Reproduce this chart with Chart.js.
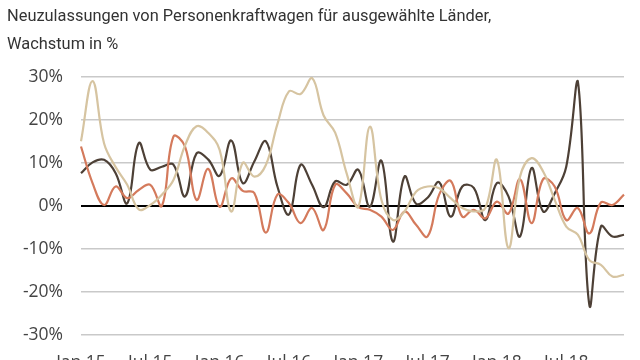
<!DOCTYPE html>
<html>
<head>
<meta charset="utf-8">
<script src="https://cdn.jsdelivr.net/npm/chart.js@4.4.1/dist/chart.umd.min.js"></script>
<style>
  html, body { margin: 0; padding: 0; background: #fff; overflow: hidden; }
  #wrap { width: 640px; height: 360px; overflow: hidden; }
  canvas { display: block; }
</style>
</head>
<body>
<div id="wrap"><canvas id="chart" width="640" height="372"></canvas></div>
<script>
// Monate Jan 15 bis Dez 18
const months = ["Jan", "Feb", "Mär", "Apr", "Mai", "Jun", "Jul", "Aug", "Sep", "Okt", "Nov", "Dez"];
const years = ["15", "16", "17", "18"];
const labels = [];
years.forEach(y => months.forEach(m => labels.push(m + " " + y)));

// Wachstum in %
const seriesDark = [
  7.6, 10.1, 10.7, 7.6, 0.6, 14.6, 8.4, 9.1, 9.6, 2.2,
  12.2, 10.8, 7, 15.2, 5.3, 10.3, 15, 4.5, -2, 9.5,
  4.9, -0.3, 5.7, 4.9, 8.4, -0.2, 10.5, -8.3, 6.8, 0.5,
  1.9, 5.5, -2.5, 4.5, 4.2, -3.3, 5.3, 2.2, -7.1, 8.8,
  -1.3, 2.9, 9.1, 29, -23, -4.8, -7.1, -6.7
];
const seriesOrange = [
  13.8, 5.3, 0.2, 4.5, 1.8, 3.7, 4.9, 0, 16.1, 13.8,
  1.4, 8.6, -0.2, 6.4, 3.5, 3, -6.2, 2.6, 0.6, -4,
  -0.5, -5.6, 4.9, 2.9, -0.3, -0.9, -2.5, -5.6, -1.3, -4.4,
  -7.1, 2.6, 5.8, -2.5, -0.9, -2.9, 1, -1.8, 6.2, -4,
  6.2, 4.5, -3.3, -0.5, -6.4, 0.8, 0.2, 2.6
];
const seriesBeige = [
  15, 29, 14.5, 9, 4.9, -0.8, 0.2, 2.6, 6, 14,
  18.5, 17, 13, -1.3, 10, 6.8, 9.5, 19, 26.6, 26,
  29.7, 21, 17, 7.5, -0.2, 18.4, 1.4, -3.3, -1.3, 3.3,
  4.5, 4.1, 1.8, -0.5, -1.3, -0.5, 10.7, -9.8, 6.8, 11.1,
  8, 1.4, -4.8, -6.7, -12.6, -13.7, -16.4, -16
];
const yTicks = [-30, -20, -10, 0, 10, 20, 30];

const ctx = document.getElementById("chart").getContext("2d");
const lineStyle = { fill: false, tension: 0.4, borderWidth: 2.2, pointRadius: 0 };

new Chart(ctx, {
  type: "line",
  data: {
    labels: labels,
    datasets: [
      Object.assign({ label: "Beige", data: seriesBeige, borderColor: "#d6c4a1" }, lineStyle),
      Object.assign({ label: "Orange", data: seriesOrange, borderColor: "#d47a5c" }, lineStyle),
      Object.assign({ label: "Dunkel", data: seriesDark, borderColor: "#4d4036" }, lineStyle)
    ]
  },
  options: {
    responsive: false,
    animation: false,
    layout: { padding: { left: 7, right: 16, top: 0, bottom: 0 } },
    plugins: {
      legend: { display: false },
      tooltip: { enabled: false },
      title: {
        display: true,
        text: ["Neuzulassungen von Personenkraftwagen für ausgewählte Länder,", "Wachstum in %"],
        align: "start",
        color: "#333",
        font: { family: "Roboto", size: 16.4, weight: "normal", lineHeight: 1.7 },
        padding: { top: 3, bottom: 18 }
      }
    },
    scales: {
      x: {
        grid: { display: false },
        border: { display: false },
        afterFit: s => { s.height = 37; },
        ticks: {
          autoSkip: false,
          maxRotation: 0,
          padding: 10,
          color: "#444",
          font: { family: "Open Sans", size: 17.5 },
          callback: (v, i) => (i % 6 === 0 ? labels[i] : "")
        }
      },
      y: {
        min: -30,
        max: 30,
        afterFit: s => { s.width = 74; },
        afterBuildTicks: s => { s.ticks = yTicks.map(v => ({ value: v })); },
        border: { display: false },
        grid: {
          drawTicks: false,
          color: c => (c.tick.value === 0 ? "#000" : "#c9c9c9"),
          lineWidth: c => (c.tick.value === 0 ? 2 : 1.5)
        },
        ticks: {
          padding: 18,
          color: "#444",
          font: { family: "Open Sans", size: 17.5 },
          callback: v => v + "%"
        }
      }
    }
  }
});
</script>
</body>
</html>
